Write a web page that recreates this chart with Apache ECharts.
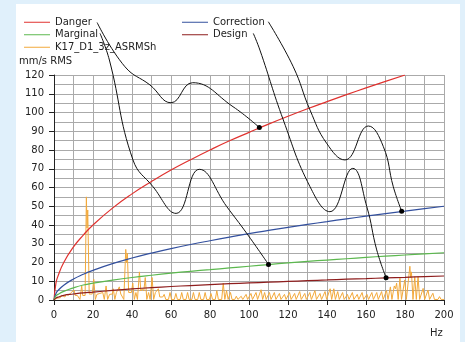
<!DOCTYPE html>
<html>
<head>
<meta charset="utf-8">
<script src="https://cdn.jsdelivr.net/npm/echarts@6/dist/echarts.min.js"></script>
<style>
  html, body { margin: 0; padding: 0; background: #e0f0fb; }
  #panel { position: absolute; left: 16px; top: 4px; width: 444px; height: 338px; background: #fff; }
  #chart { position: absolute; left: 0; top: 0; width: 465px; height: 342px; }
</style>
</head>
<body>
<div id="panel"></div>
<div id="chart"></div>
<script>
// limit curves (Hz / mm/s RMS)
const dangerHz = [0, 1, 2, 5, 10, 15, 20, 30, 40, 50, 60, 70, 80, 90, 100, 110, 120, 130, 140, 150, 160, 170, 180];
const dangerVal = [0, 9, 12.6, 20, 28.3, 34.6, 40, 49, 56.6, 63.2, 69.3, 74.8, 80, 84.9, 89.4, 93.8, 98, 102, 105.8, 109.5, 113.1, 116.6, 120];

const curveHz = [0, 1, 2, 5, 10, 15, 20, 30, 40, 50, 60, 70, 80, 90, 100, 110, 120, 130, 140, 150, 160, 170, 180, 190, 200];
const correctionVal = [0, 3.5, 5, 7.9, 11.2, 13.7, 15.8, 19.4, 22.4, 25, 27.4, 29.6, 31.6, 33.5, 35.4, 37.1, 38.7, 40.3, 41.8, 43.3, 44.7, 46.1, 47.4, 48.7, 50];
const marginalVal = [0, 2.2, 3, 4.6, 6.5, 8, 9, 10.6, 12, 13.2, 14.3, 15.3, 16.2, 17.1, 18, 18.9, 19.8, 20.6, 21.3, 22, 22.7, 23.4, 24, 24.6, 25.2];
const designVal = [0, 1, 1.5, 2.5, 3.2, 3.8, 4.2, 5.1, 5.9, 6.6, 7.2, 7.7, 8.2, 8.7, 9.1, 9.5, 9.9, 10.3, 10.7, 11.1, 11.4, 11.8, 12.1, 12.5, 12.8];

// spectrum peaks K17_D1_3z_ASRMSh
const peakHz = [1.5, 2.5, 4, 5, 6.2, 7.4, 8.8, 10.3, 11.5, 12.5, 14.2, 15.3, 16.6, 17.3, 18.8, 20.4, 22, 23.5, 25, 26.7, 28.5, 29.5,
  30.4, 32, 33.5, 35, 36.8, 37.6, 39, 40.4, 42, 43.8, 45.3, 46.8, 48.5, 50.3, 52, 53.5, 55, 56.5,
  59.5, 62.5, 65.5, 68.5, 71.5, 74.5, 77.5, 80.5, 83.5, 86.8, 88.5, 90.5, 93.5, 96, 98.5, 101, 103.6, 106.2, 108, 110.5, 113, 115.6, 118.2,
  120.8, 123.4, 126, 128.6, 131.2, 133.8, 136.4, 139, 141.6, 143.5, 145.5, 148, 150.5, 153, 155.5, 158, 160.5, 163, 165.5, 168, 170.5,
  172.5, 174.5, 175.7, 177.4, 179.9, 182.5, 183.3, 185, 186.7, 189.3, 191.8, 194.3, 197.7];
const peakAmp = [1, 1.5, 2.5, 2, 3, 2.5, 4, 5.3, 3, 3, 7.5, 3, 55, 48, 4, 11, 3, 3.5, 4, 7.5, 3, 4,
  6, 4, 7, 4, 27, 25, 5, 9, 4, 15, 6, 12, 4, 12, 4, 6, 2, 3,
  4, 3.5, 4, 4, 4, 4, 4, 3.5, 5, 9, 5, 4, 2, 2, 3, 3.5, 4, 5.5, 4, 4, 4, 3.5, 3,
  4, 3.5, 4.5, 3.5, 4, 5, 3.5, 4.5, 6, 6, 4.5, 4, 3, 4, 3, 4, 3, 4, 4, 4.5, 5,
  7, 7.5, 9, 11.6, 10.7, 18, 15, 12.4, 12.4, 6.2, 5.3, 3.6, 1.8];

// callout lines from legend labels to the curves
const dangerCall = [[22.1, 148], [36.4, 124.4], [49.2, 114.7], [60, 105.2], [71.1, 115.9], [91.8, 103.1], [105.3, 92]];
const marginalCall = [[23.6, 142.2], [28.4, 128], [40.5, 74.7], [50.8, 60.4], [62.6, 46.2], [74.5, 69.7], [88.6, 49.8], [98.8, 35.6], [110, 19]];
const correctionCall = [[109.9, 148.4], [122.7, 124.4], [131.3, 101.3], [139.8, 83.6], [149.2, 74.7], [161.2, 92.8], [168.9, 81.8], [174, 60.4], [178.3, 47.3]];
const designCall = [[102.2, 142.2], [105.6, 133.3], [117.6, 96], [131.3, 60.4], [141.5, 47.1], [153.2, 70.2], [160.4, 49.8], [165.5, 26.7], [170.3, 11.9]];

const font = 'DejaVu Sans';

function pairs(xs, ys) {
  return xs.map((x, i) => [x, ys[i]]);
}

function spectrum() {
  const out = [[0, 0]];
  for (let i = 0; i < peakHz.length; i++) {
    out.push([peakHz[i], peakAmp[i]]);
    const next = peakHz[i + 1];
    if (next === undefined) {
      out.push([peakHz[i] + 0.8, 0.3]);
      out.push([200, 0.3]);
    } else if (next - peakHz[i] > 1.6) {
      out.push([peakHz[i] + 0.8, 0.3]);
      out.push([next - 0.8, 0.3]);
    } else {
      out.push([(peakHz[i] + next) / 2, Math.min(peakAmp[i], peakAmp[i + 1]) * 0.8]);
    }
  }
  return out;
}

function callout(name, pts) {
  return {
    name: name,
    type: 'line',
    smooth: 0.45,
    clip: false,
    z: 5,
    silent: true,
    lineStyle: {color: '#111', width: 1},
    itemStyle: {color: '#000'},
    data: pts.map((p, i) => i === pts.length - 1
      ? {value: p, symbol: 'circle', symbolSize: 5}
      : {value: p, symbol: 'none'})
  };
}

function curve(name, data, color, z) {
  return {
    name: name,
    type: 'line',
    smooth: true,
    showSymbol: false,
    z: z,
    itemStyle: {color: color},
    lineStyle: {color: color, width: 1.2},
    data: data
  };
}

const legendText = {fontFamily: font, fontSize: 10, color: '#222', lineHeight: 12.5};

const chart = echarts.init(document.getElementById('chart'));
chart.setOption({
  animation: false,
  textStyle: {fontFamily: font},
  title: [
    {text: 'mm/s RMS', left: 19, top: 56, padding: 0, textStyle: {fontFamily: font, fontSize: 10, fontWeight: 'normal', color: '#222'}},
    {text: 'Hz', left: 430, top: 328, padding: 0, textStyle: {fontFamily: font, fontSize: 10, fontWeight: 'normal', color: '#222'}}
  ],
  legend: [
    {
      left: 24, top: 16, padding: 0, orient: 'vertical', itemGap: 0,
      icon: 'rect', itemWidth: 26, itemHeight: 1,
      textStyle: legendText,
      data: ['Danger', 'Marginal', 'K17_D1_3z_ASRMSh']
    },
    {
      left: 182, top: 16, padding: 0, orient: 'vertical', itemGap: 0,
      icon: 'rect', itemWidth: 26, itemHeight: 1,
      textStyle: legendText,
      data: ['Correction', 'Design']
    }
  ],
  grid: {left: 54, right: 21, top: 75, bottom: 42},
  xAxis: {
    type: 'value', min: 0, max: 200, interval: 20,
    axisLine: {show: true, lineStyle: {color: '#222'}},
    axisTick: {show: true, length: 5, lineStyle: {color: '#222'}},
    axisLabel: {fontFamily: font, fontSize: 10, color: '#222', margin: 10},
    splitLine: {show: true, lineStyle: {color: '#aaa'}},
    minorTick: {show: false, splitNumber: 2},
    minorSplitLine: {show: true, lineStyle: {color: '#aaa'}}
  },
  yAxis: {
    type: 'value', min: 0, max: 120, interval: 10,
    axisLine: {show: true, lineStyle: {color: '#222'}},
    axisTick: {show: true, length: 5, lineStyle: {color: '#222'}},
    axisLabel: {fontFamily: font, fontSize: 10, color: '#222', margin: 10},
    splitLine: {show: true, lineStyle: {color: '#aaa'}},
    minorTick: {show: false, splitNumber: 2},
    minorSplitLine: {show: true, lineStyle: {color: '#aaa'}}
  },
  series: [
    {
      name: 'K17_D1_3z_ASRMSh',
      type: 'line',
      showSymbol: false,
      z: 2,
      itemStyle: {color: '#f2a93b'},
      lineStyle: {color: '#f2a93b', width: 1},
      data: spectrum()
    },
    curve('Danger', pairs(dangerHz, dangerVal), '#e0322f', 3),
    curve('Correction', pairs(curveHz, correctionVal), '#33509e', 3),
    curve('Marginal', pairs(curveHz, marginalVal), '#5cb84f', 3),
    curve('Design', pairs(curveHz, designVal), '#8e1d1d', 3),
    callout('dangerCall', dangerCall),
    callout('marginalCall', marginalCall),
    callout('correctionCall', correctionCall),
    callout('designCall', designCall)
  ]
});
</script>
</body>
</html>
